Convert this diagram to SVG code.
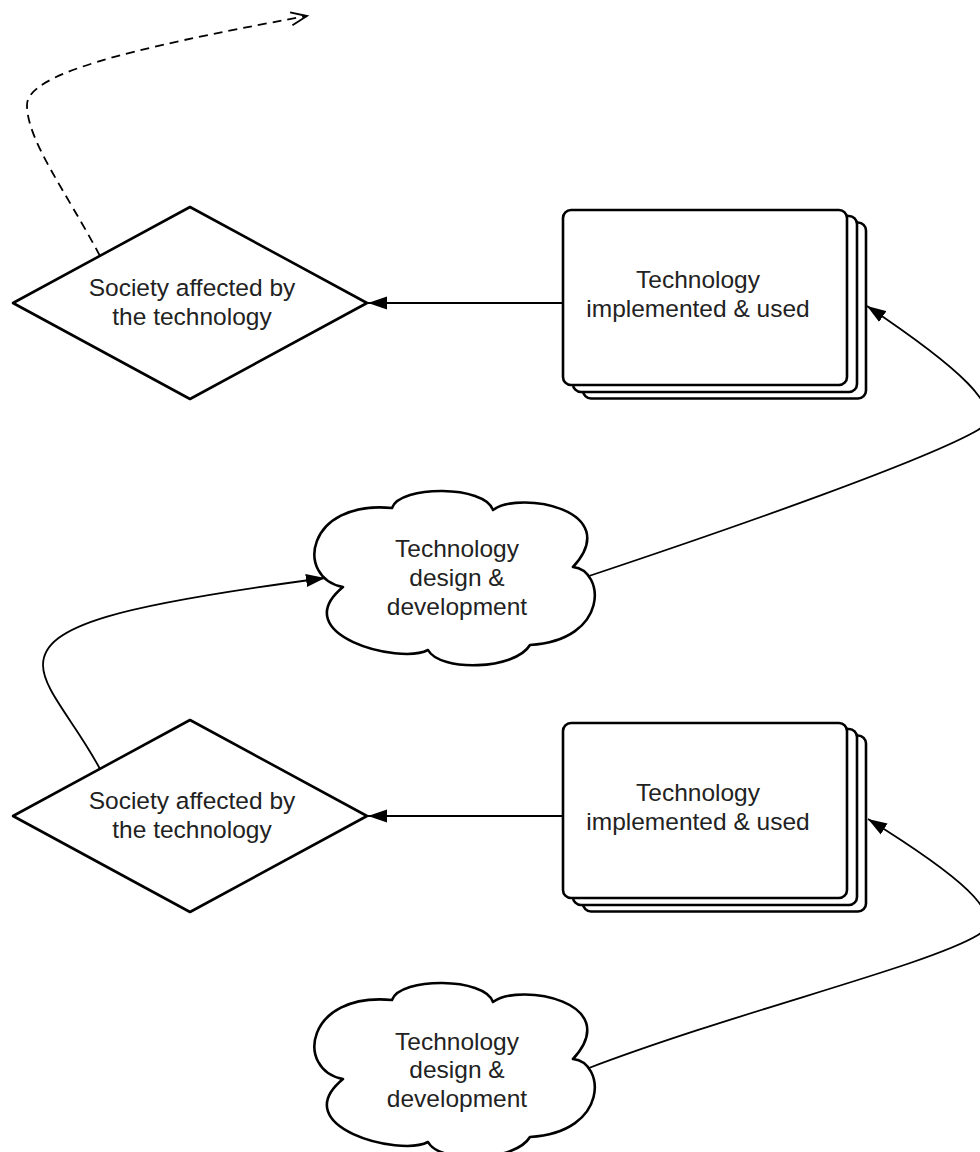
<svg xmlns="http://www.w3.org/2000/svg" xmlns:xlink="http://www.w3.org/1999/xlink" width="980" height="1152" viewBox="0 0 980 1152">
<style>
.shape{fill:#fff;stroke:#000;stroke-width:2.6;stroke-linejoin:round}
.conn{fill:none;stroke:#000;stroke-width:1.8}
.dash{stroke-dasharray:9 6}
.lbl{font-family:"Liberation Sans",Arial,sans-serif;font-size:24.5px;fill:#222;text-anchor:middle}
</style>
<defs>
<marker id="arrow" markerUnits="userSpaceOnUse" markerWidth="20" markerHeight="14" refX="19" refY="7" orient="auto">
<path d="M0,0.5 L19,7 L0,13.5 z" fill="#000" stroke="none"/>
</marker>
<marker id="open" markerUnits="userSpaceOnUse" markerWidth="20" markerHeight="16" refX="17" refY="7.5" orient="auto">
<path d="M1,1 L17,7.5 L1,14" fill="none" stroke="#000" stroke-width="1.8" stroke-dasharray="none"/>
</marker>
<path id="cloudShape" d="M343,587 C295,578 305,500 392,508 C400,485 485,485 493,510 C520,490 625,510 573,567 C605,570 610,640 530,645 C515,670 440,672 428,650 C400,665 285,635 343,587 Z"/>
</defs>

<g id="society1">
<polygon class="shape" points="13,303 190,207 367,303 190,399"/>
<text class="lbl" x="192" y="296">Society affected by</text>
<text class="lbl" x="192" y="325">the technology</text>
</g>

<g id="implemented1">
<rect class="shape" x="583" y="222.5" width="283" height="176" rx="8"/>
<rect class="shape" x="573" y="216" width="284" height="176" rx="8"/>
<rect class="shape" x="563" y="210" width="284" height="175" rx="8"/>
<text class="lbl" x="698" y="288">Technology</text>
<text class="lbl" x="698" y="317">implemented &amp; used</text>
</g>

<g id="design1">
<use xlink:href="#cloudShape" class="shape"/>
<text class="lbl" x="457" y="557">Technology</text>
<text class="lbl" x="457" y="586">design &amp;</text>
<text class="lbl" x="457" y="615">development</text>
</g>

<g id="society2">
<polygon class="shape" points="13,816 190,720 367,816 190,912"/>
<text class="lbl" x="192" y="809">Society affected by</text>
<text class="lbl" x="192" y="838">the technology</text>
</g>

<g id="implemented2">
<rect class="shape" x="583" y="735.5" width="283" height="176" rx="8"/>
<rect class="shape" x="573" y="729" width="284" height="176" rx="8"/>
<rect class="shape" x="563" y="723" width="284" height="175" rx="8"/>
<text class="lbl" x="698" y="801">Technology</text>
<text class="lbl" x="698" y="830">implemented &amp; used</text>
</g>

<g id="design2">
<use xlink:href="#cloudShape" class="shape" transform="translate(0,492)"/>
<text class="lbl" x="457" y="1050">Technology</text>
<text class="lbl" x="457" y="1078">design &amp;</text>
<text class="lbl" x="457" y="1107">development</text>
</g>

<g id="connectors">
<path class="conn dash" d="M100,256 C65,190 27,140 27,105 C27,75 120,50 307,16" marker-end="url(#open)"/>
<path class="conn" d="M563,303 L368,303" marker-end="url(#arrow)"/>
<path class="conn" d="M589,576 C742,525 926,460 978,430 C1010,411 955,365 867,306" marker-end="url(#arrow)"/>
<path class="conn" d="M100,769 C75,722 43,690 43,665 C43,625 120,605 325,578" marker-end="url(#arrow)"/>
<path class="conn" d="M563,816 L368,816" marker-end="url(#arrow)"/>
<path class="conn" d="M589,1068 C742,1010 926,966 978,935 C1010,916 955,873 868,819" marker-end="url(#arrow)"/>
</g>
</svg>
